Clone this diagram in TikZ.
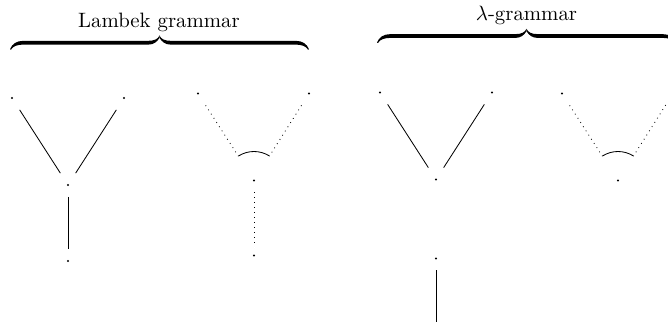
\documentclass[tikz,border=0pt]{standalone}
\begin{document}
\begin{tikzpicture}[x=0.4808pt, y=-0.4808pt,
  dotn/.style={rectangle, inner sep=0pt, minimum width=8pt, minimum height=11pt},
  solidedge/.style={line width=0.4pt},
  dotedge/.style={dotted, line width=0.4pt},
  linkarc/.style={line width=0.4pt},
  lbl/.style={anchor=base, inner sep=0pt},
  bracepic/.pic={
    \foreach \s in {1,-1}{
      \begin{scope}[xscale=\s]
        \fill (-149.5,13.8) .. controls (-147.5,8.5) and (-143,5.3) .. (-136,5.3)
          -- (-11,5.3) .. controls (-5,5.3) and (-1.5,3.5) .. (0,0)
          -- (0,2.4) .. controls (-2.5,6.5) and (-6,9.1) .. (-11,9.1)
          -- (-136,9.1) .. controls (-142,9.1) and (-146.3,10.5) .. (-148.6,14.2) -- cycle;
      \end{scope}
    }
  }
]
\useasboundingbox (0,0) rectangle (668,332);
% braces and labels
\pic at (159.5,35.5) {bracepic};
\pic at (526.5,28.8) {bracepic};
\node[lbl] (t1) at (159,27.7) {Lambek grammar};
\node[lbl] (t2) at (526.5,20.5) {$\lambda$-grammar};
% tree 1
\node[dotn] (a1) at (12,98) {};
\node[dotn] (b1) at (124,98) {};
\node[dotn] (c1) at (68,185) {};
\node[dotn] (d1) at (68,261) {};
% tree 2
\node[dotn] (a2) at (198,93.5) {};
\node[dotn] (b2) at (309,93.5) {};
\node[dotn] (c2) at (254,180.5) {};
\node[dotn] (d2) at (254,255.5) {};
% tree 3
\node[dotn] (a3) at (380,92.5) {};
\node[dotn] (b3) at (492,92.5) {};
\node[dotn] (c3) at (436,179.5) {};
\node[dotn] (d3) at (436,258.5) {};
\coordinate (e3) at (436,322);
% tree 4
\node[dotn] (a4) at (562,93.5) {};
\coordinate (b4) at (673,93.5);
\node[dotn] (c4) at (618,180.5) {};
% dots
\foreach \n in {a1,b1,c1,d1,a2,b2,c2,d2,a3,b3,c3,d3,a4,c4}
  \fill (\n.center) circle (0.55pt);
% edges
\draw[solidedge] (a1) -- (c1);
\draw[solidedge] (b1) -- (c1);
\draw[solidedge] (c1) -- (d1);
\draw[dotedge, shorten >=7.3pt] (a2) -- (c2);
\draw[dotedge, shorten >=7.3pt] (b2) -- (c2);
\draw[dotedge] (c2) -- (d2);
\draw[linkarc] ([shift={(122.8:13.94pt)}]c2.center) arc[start angle=122.8, end angle=57.2, radius=13.94pt];
\draw[solidedge] (a3) -- (c3);
\draw[solidedge] (b3) -- (c3);
\draw[solidedge] (d3) -- (e3);
\draw[dotedge, shorten >=7.3pt] (a4) -- (c4);
\draw[dotedge, shorten <=6.6pt, shorten >=7.3pt] (b4) -- (c4);
\draw[linkarc] ([shift={(122.8:13.94pt)}]c4.center) arc[start angle=122.8, end angle=57.2, radius=13.94pt];
\end{tikzpicture}
\end{document}
